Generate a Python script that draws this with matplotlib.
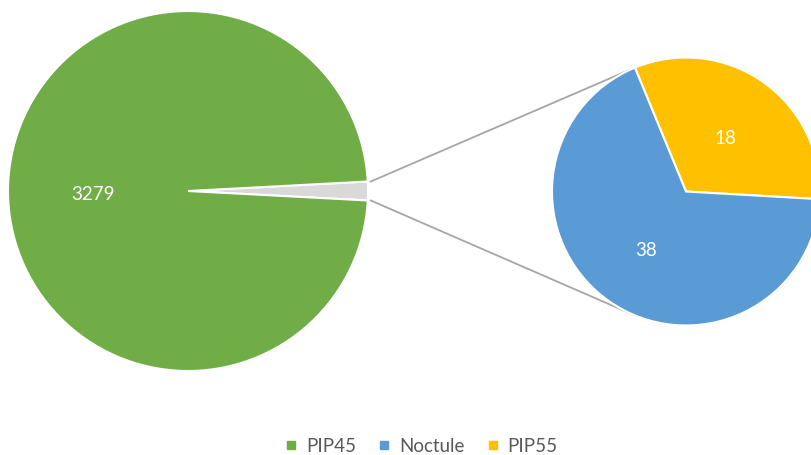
import numpy as np
import matplotlib.pyplot as plt
from matplotlib.lines import Line2D

plt.rcParams['font.family'] = ['Lato', 'DejaVu Sans']

# counts per species
categories = ['PIP45', 'Noctule', 'PIP55']
values = [3279, 38, 18]
colors = ['#70AD47', '#5B9BD5', '#FFC000']
other_color = '#D9D9D9'

W, H = 812, 455
fig = plt.figure(figsize=(W / 100, H / 100), dpi=100)
ax = fig.add_axes([0, 0, 1, 1])

# main pie: PIP45 and the grouped small ones ("other") centred on 0 degrees
other = values[1] + values[2]
main_vals = [other, values[0]]
main_c, main_r = (188, H - 191), 180
start_main = -other / sum(main_vals) * 180
wedges, texts = ax.pie(main_vals, colors=[other_color, colors[0]],
                       labels=['', str(values[0])], labeldistance=0.53,
                       startangle=start_main, center=main_c, radius=main_r,
                       wedgeprops=dict(edgecolor='white', linewidth=1.5),
                       textprops=dict(color='white', fontsize=13.5), frame=True)

# secondary pie: breakdown of the grouped slice
sub_vals = [values[2], values[1]]
sub_c, sub_r = (686, H - 191.5), 134
wedges2, texts2 = ax.pie(sub_vals, colors=[colors[2], colors[1]],
                         labels=[str(v) for v in sub_vals], labeldistance=0.51,
                         startangle=-3.3, center=sub_c, radius=sub_r,
                         wedgeprops=dict(edgecolor='white', linewidth=1.5),
                         textprops=dict(color='white', fontsize=13.5), frame=True)
for t in texts + texts2:
    x, y = t.get_position()
    t.set_position((x, y - 3))
    t.set_ha('center')
    t.set_va('center')

ax.set_xlim(0, W)
ax.set_ylim(0, H)
ax.set_aspect('equal')
ax.axis('off')

# connector lines from the grouped slice to the secondary pie
a = np.deg2rad(start_main)
p_top = (main_c[0] + main_r * np.cos(a) + 3, main_c[1] - main_r * np.sin(a))
p_bot = (main_c[0] + main_r * np.cos(a) + 3, main_c[1] + main_r * np.sin(a))
q_top = (sub_c[0] + sub_r * np.cos(np.deg2rad(113)), sub_c[1] + sub_r * np.sin(np.deg2rad(113)))
q_bot = (sub_c[0] + sub_r * np.cos(np.deg2rad(247)), sub_c[1] + sub_r * np.sin(np.deg2rad(247)))
for p, q in [(p_top, q_top), (p_bot, q_bot)]:
    ax.plot([p[0], q[0]], [p[1], q[1]], color='#A6A6A6', lw=1.3, zorder=0)

handles = [Line2D([], [], marker='s', linestyle='', markersize=6, color=c) for c in colors]
fig.legend(handles, categories, loc='center', bbox_to_anchor=(0.518, 1 - 446 / H),
           ncol=3, frameon=False, fontsize=13.5, handlelength=0.8, handletextpad=0.4,
           columnspacing=1.1, labelcolor='#595959')

fig.savefig('out.png', dpi=100)
